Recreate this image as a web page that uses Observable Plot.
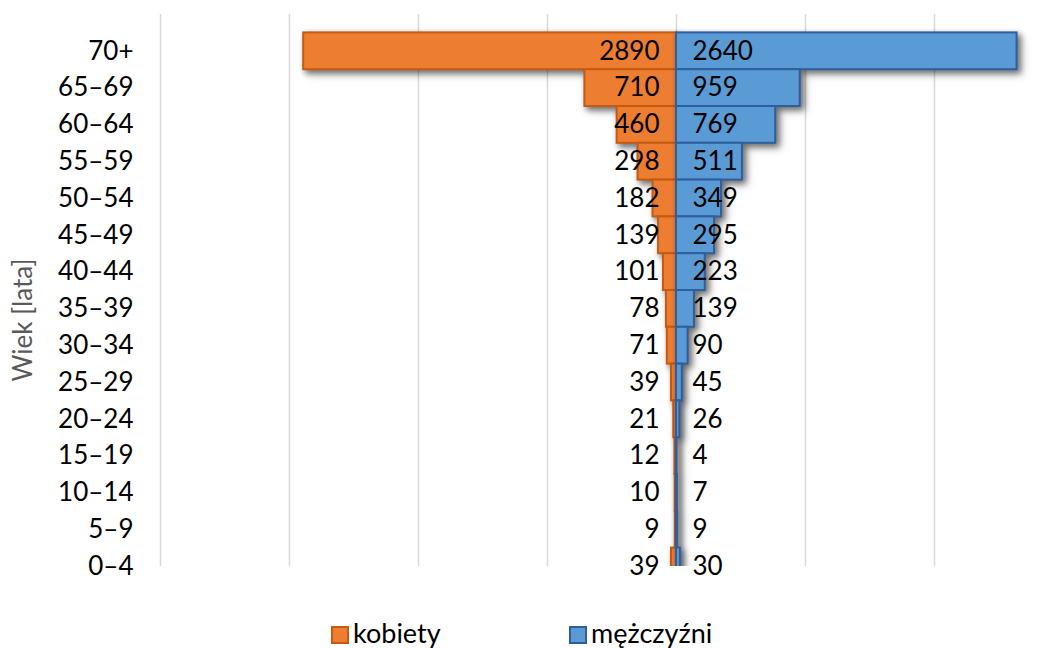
<!DOCTYPE html>
<html>
<head>
<meta charset="utf-8">
<script src="https://cdn.jsdelivr.net/npm/d3@7"></script>
<script src="https://cdn.jsdelivr.net/npm/@observablehq/plot@0.6"></script>
<style>
  html, body { margin: 0; padding: 0; background: #fff; }
  body { width: 1051px; height: 648px; position: relative; overflow: hidden; font-family: Lato, "Open Sans", sans-serif; }
  .lg-sw { position: absolute; width: 18px; height: 18px; box-sizing: border-box; border: 2px solid; top: 626px; }
  .lg-tx { position: absolute; top: 619px; font-size: 27px; line-height: 27px; color: #000; white-space: nowrap; }
</style>
</head>
<body>
<div id="chart"></div>
<div id="legend"></div>
<script>
const ages = ["70+","65–69","60–64","55–59","50–54","45–49","40–44","35–39","30–34","25–29","20–24","15–19","10–14","5–9","0–4"];
const kobiety = [2890,710,460,298,182,139,101,78,71,39,21,12,10,9,39];
const mezczyzni = [2640,959,769,511,349,295,223,139,90,45,26,4,7,9,30];
const seriesNames = ["kobiety","mężczyźni"];
const fills = ["#ED7D31","#5B9BD5"];
const strokes = ["#C55A11","#2E5E9E"];
const gridTicks = [-4000,-3000,-2000,-1000,0,1000,2000];

const data = ages.map((a, i) => ({age: a, i, k: kobiety[i], m: mezczyzni[i]}));

const fontSize = 26;
const chart = Plot.plot({
  width: 1051,
  height: 600,
  marginLeft: 160,
  marginRight: 0,
  marginTop: 14,
  marginBottom: 34,
  style: {fontFamily: "Lato, 'Open Sans', sans-serif", fontSize: fontSize + "px", color: "#000", background: "#fff", overflow: "visible"},
  x: {domain: [-4000, 2907], axis: null},
  y: {type: "linear", domain: [-1, 14], reverse: true, axis: null},
  marks: [
    Plot.ruleX(gridTicks, {stroke: "#d9d9d9", strokeWidth: 1.5}),
    Plot.rectX(data, {x1: 0, x2: d => -d.k, y1: d => d.i - 0.5, y2: d => d.i + 0.5, fill: fills[0], stroke: strokes[0], strokeWidth: 2, clip: true, className: "bars"}),
    Plot.rectX(data, {x1: 0, x2: d => d.m, y1: d => d.i - 0.5, y2: d => d.i + 0.5, fill: fills[1], stroke: strokes[1], strokeWidth: 2, clip: true, className: "bars"}),
    Plot.text(data, {x: 0, y: "i", text: d => String(d.k), textAnchor: "end", dx: -17, fill: "#000", fontSize}),
    Plot.text(data, {x: 0, y: "i", text: d => String(d.m), textAnchor: "start", dx: 16, fill: "#000", fontSize}),
    Plot.axisY(d3.range(ages.length), {tickFormat: i => ages[i], tickSize: 0, tickPadding: 27, fontSize, fill: "#000", label: null}),
    Plot.text(["Wiek [lata]"], {frameAnchor: "left", dx: -137, dy: 91, rotate: -90, fill: "#595959", fontSize})
  ]
});
chart.querySelectorAll("g.bars, g[aria-label='rect']").forEach(g => {
  g.style.filter = "drop-shadow(3px 3px 3px rgba(0,0,0,0.35))";
});
document.getElementById("chart").appendChild(chart);

const legend = document.getElementById("legend");
const swLeft = [331, 569];
seriesNames.forEach((name, j) => {
  const sw = document.createElement("div");
  sw.className = "lg-sw";
  sw.style.left = swLeft[j] + "px";
  sw.style.background = fills[j];
  sw.style.borderColor = strokes[j];
  const t = document.createElement("div");
  t.className = "lg-tx";
  t.style.left = (swLeft[j] + 22) + "px";
  t.textContent = name;
  legend.appendChild(sw);
  legend.appendChild(t);
});
</script>
</body>
</html>
